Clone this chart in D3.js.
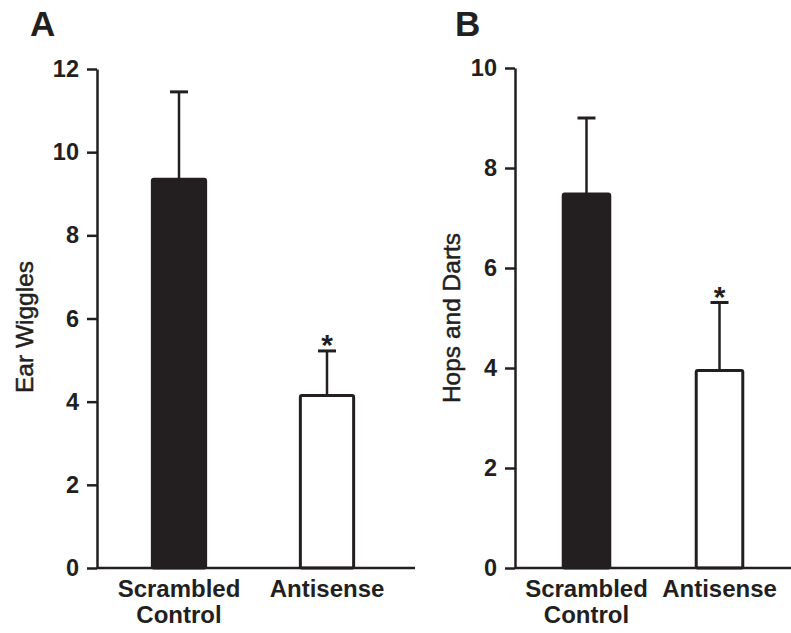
<!DOCTYPE html>
<html>
<head>
<meta charset="utf-8">
<script src="https://cdn.jsdelivr.net/npm/d3@7"></script>
<style>
  body { margin: 0; background: #fff; }
  svg text { font-family: "Liberation Sans", Arial, sans-serif; fill: #231f20; }
</style>
</head>
<body>
<div id="chart"></div>
<script>
// groups on the x axis (two-line labels)
var groups = ["Scrambled Control", "Antisense"];
var groupLines = [["Scrambled", "Control"], ["Antisense"]];

// panel A - ear wiggles, mean and SEM
var earWiggles = [9.35, 4.15];
var earWigglesErr = [2.1, 1.07];

// panel B - hops and darts, mean and SEM
var hopsDarts = [7.48, 3.95];
var hopsDartsErr = [1.52, 1.36];

// which groups get a star
var significant = [false, true];

var ticksA = [0, 2, 4, 6, 8, 10, 12];
var ticksB = [0, 2, 4, 6, 8, 10];

var barColors = ["#231f20", "#ffffff"];
var ink = "#231f20";

var svg = d3.select("#chart").append("svg")
  .attr("width", 791)
  .attr("height", 633);

// draws one panel
function drawPanel(opts) {
  var g = svg.append("g");

  var y = d3.scaleLinear().domain(opts.domain).range([568, opts.top]);
  var x = d3.scaleBand().domain(groups).range(opts.xRange);
  var bw = x.bandwidth() * opts.barFrac;

  // panel letter
  g.append("text")
    .attr("x", opts.letterX).attr("y", 36)
    .attr("font-size", 35).attr("font-weight", "bold")
    .text(opts.letter);

  // y axis
  var ax = g.append("g")
    .attr("transform", "translate(" + opts.axisX + ",0)")
    .call(d3.axisLeft(y).tickValues(opts.ticks).tickSize(10).tickSizeOuter(0).tickPadding(8));
  ax.select(".domain").attr("stroke", ink).attr("stroke-width", 2.5);
  ax.selectAll(".tick line").attr("stroke", ink).attr("stroke-width", 2.5);
  ax.selectAll(".tick text")
    .attr("font-size", 23.5).attr("font-weight", "bold")
    .attr("font-family", "Liberation Sans, Arial, sans-serif")
    .attr("fill", ink);

  // y axis title (slight stroke to match the heavier print)
  g.append("text")
    .attr("transform", "translate(" + opts.titleX + "," + opts.titleY + ") rotate(-90)")
    .attr("text-anchor", "middle")
    .attr("font-size", 24.5)
    .attr("stroke", ink).attr("stroke-width", 0.5)
    .text(opts.title);

  var data = groups.map(function(d, i) {
    return { name: d, v: opts.values[i], e: opts.errs[i], i: i };
  });

  // error bars (behind the bars)
  var eb = g.selectAll(".err").data(data).enter().append("g");
  eb.append("line")
    .attr("x1", function(d) { return x(d.name) + x.bandwidth() / 2; })
    .attr("x2", function(d) { return x(d.name) + x.bandwidth() / 2; })
    .attr("y1", function(d) { return y(d.v); })
    .attr("y2", function(d) { return y(d.v + d.e); })
    .attr("stroke", ink).attr("stroke-width", 2.5);
  eb.append("line")
    .attr("x1", function(d) { return x(d.name) + x.bandwidth() / 2 - 9; })
    .attr("x2", function(d) { return x(d.name) + x.bandwidth() / 2 + 9; })
    .attr("y1", function(d) { return y(d.v + d.e); })
    .attr("y2", function(d) { return y(d.v + d.e); })
    .attr("stroke", ink).attr("stroke-width", 3);

  // bars
  g.selectAll(".bar").data(data).enter().append("rect")
    .attr("x", function(d) { return x(d.name) + (x.bandwidth() - bw) / 2; })
    .attr("width", bw)
    .attr("y", function(d) { return y(d.v); })
    .attr("height", function(d) { return y(0) - y(d.v); })
    .attr("rx", 1.5)
    .attr("fill", function(d) { return barColors[d.i]; })
    .attr("stroke", ink).attr("stroke-width", 3);

  // stars
  g.selectAll(".star").data(data.filter(function(d) { return significant[d.i]; }))
    .enter().append("text")
    .attr("x", function(d) { return x(d.name) + x.bandwidth() / 2; })
    .attr("y", function(d) { return y(d.v + d.e) + 4; })
    .attr("text-anchor", "middle")
    .attr("font-size", 30).attr("font-weight", "bold")
    .text("*");

  // baseline
  g.append("line")
    .attr("x1", opts.axisX).attr("x2", opts.xEnd)
    .attr("y1", y(0)).attr("y2", y(0))
    .attr("stroke", ink).attr("stroke-width", 2.5);

  // group labels
  var lab = g.selectAll(".lab").data(data).enter().append("text")
    .attr("text-anchor", "middle")
    .attr("font-size", 24).attr("font-weight", "bold");
  lab.selectAll("tspan").data(function(d) {
      return groupLines[d.i].map(function(t, k) { return { t: t, k: k, cx: x(d.name) + x.bandwidth() / 2 }; });
    })
    .enter().append("tspan")
    .attr("x", function(d) { return d.cx; })
    .attr("y", function(d) { return 597 + d.k * 26; })
    .text(function(d) { return d.t; });
}

drawPanel({
  letter: "A", letterX: 30,
  domain: [0, 12], top: 69, ticks: ticksA,
  axisX: 97, xRange: [105, 401], xEnd: 415, barFrac: 0.36,
  values: earWiggles, errs: earWigglesErr,
  title: "Ear Wiggles", titleX: 33, titleY: 327
});

drawPanel({
  letter: "B", letterX: 455,
  domain: [0, 10], top: 68, ticks: ticksB,
  axisX: 515, xRange: [520, 786], xEnd: 791, barFrac: 0.35,
  values: hopsDarts, errs: hopsDartsErr,
  title: "Hops and Darts", titleX: 460, titleY: 318
});
</script>
</body>
</html>
